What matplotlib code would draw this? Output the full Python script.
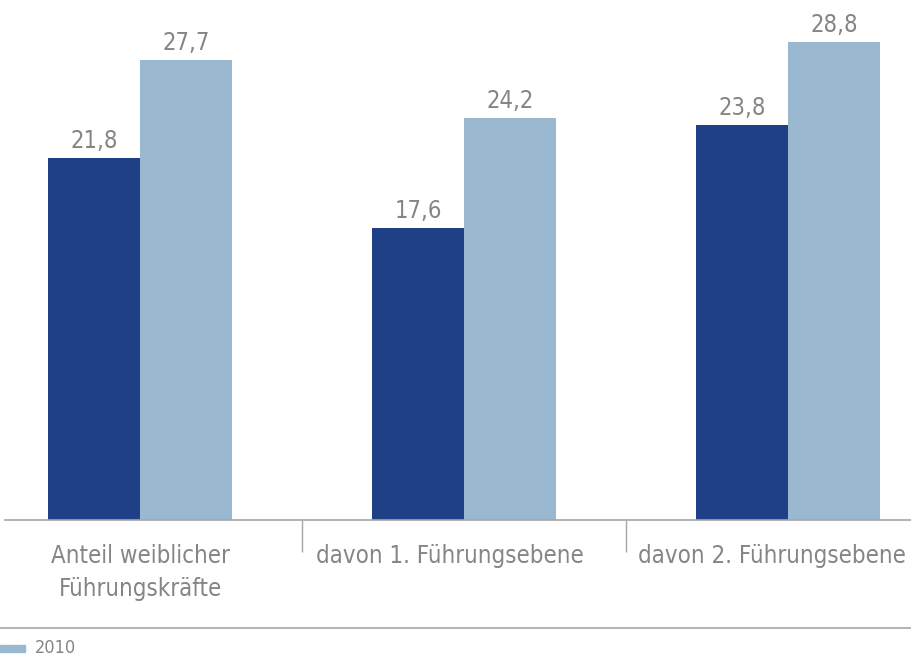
import matplotlib.pyplot as plt
import matplotlib.transforms as mtransforms
import numpy as np

plt.rcParams['font.family'] = ['DejaVu Sans']

categories = ['Anteil weiblicher\nFührungskräfte', 'davon 1. Führungsebene', 'davon 2. Führungsebene']
vals_a = [21.8, 17.6, 23.8]   # dunkle Balken (Vorjahr)
vals_b = [27.7, 24.2, 28.8]   # 2010
legend_label = '2010'

dark = '#1f3f86'
light = '#9bb8d1'
gray = '#858585'
linegray = '#a6a6a6'

fig = plt.figure(figsize=(9.11, 6.59), dpi=100)
ax = fig.add_axes([5/911, 1 - 520/659, 906/911, 480/659])

x = np.arange(len(categories))
w = 0.284
ax.bar(x - w/2, vals_a, w, color=dark)
ax.bar(x + w/2, vals_b, w, color=light)

for xi, v in zip(x - w/2, vals_a):
    ax.text(xi, v + 0.3, f'{v:.1f}'.replace('.', ','), ha='center', va='bottom',
            fontsize=17, color=gray, fontstretch='condensed')
for xi, v in zip(x + w/2, vals_b):
    ax.text(xi, v + 0.3, f'{v:.1f}'.replace('.', ','), ha='center', va='bottom',
            fontsize=17, color=gray, fontstretch='condensed')

ax.set_xlim(-0.417, 2.38)
ax.set_ylim(0, 28.9)
ax.set_yticks([])
for s in ['top', 'right', 'left']:
    ax.spines[s].set_visible(False)
ax.spines['bottom'].set_color(linegray)
ax.spines['bottom'].set_linewidth(1.2)

ax.set_xticks(x)
ax.set_xticklabels(categories, fontsize=17.2, color=gray, linespacing=1.5, fontstretch='condensed')
ax.tick_params(axis='x', which='major', length=0, pad=17)
ax.set_xticks([0.5, 1.5], minor=True)
ax.tick_params(axis='x', which='minor', length=23, width=1, color=linegray)

# Labels 2 und 3 leicht nach links versetzt (wie im Original)
for lbl, dx in zip(ax.get_xticklabels()[1:], [-0.14, -0.16]):
    lbl.set_transform(lbl.get_transform() + mtransforms.ScaledTranslation(dx, 0, fig.dpi_scale_trans))

# Legende
fig.add_artist(plt.Line2D([0, 1], [1 - 628/659] * 2, color=linegray, lw=1.2, transform=fig.transFigure))
fig.add_artist(plt.Rectangle((0, 1 - 652/659), 25/911, 7/659, color=light, transform=fig.transFigure))
fig.text(35/911, 1 - 648/659, legend_label, fontsize=13, color=gray, va='center', fontstretch='condensed')

fig.savefig('out.png', dpi=100)
